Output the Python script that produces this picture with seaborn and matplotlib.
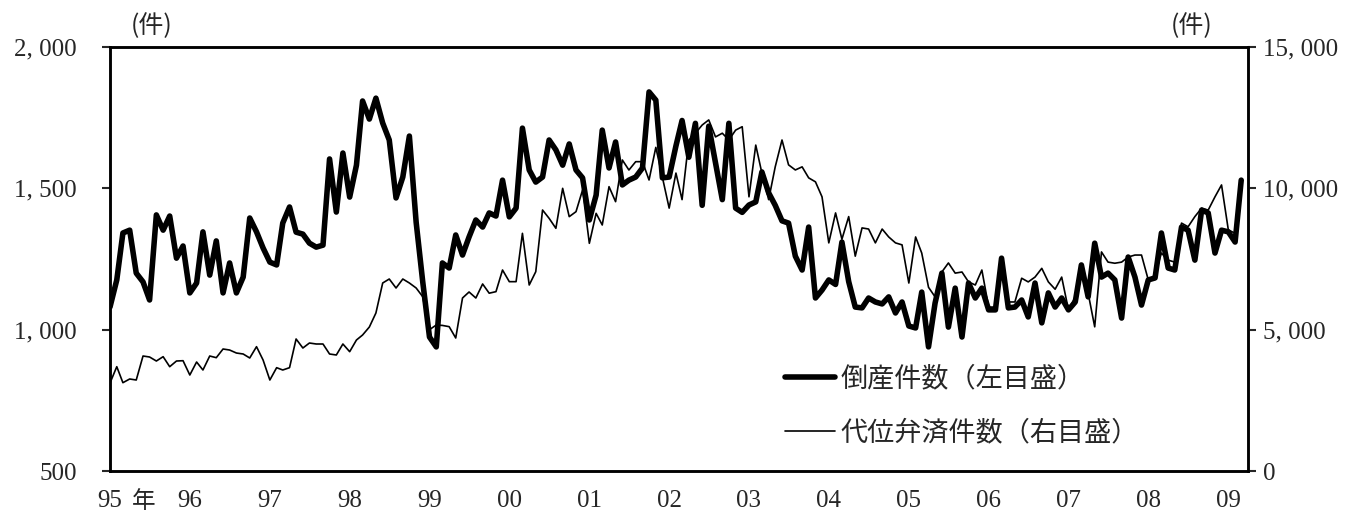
import numpy as np
import pandas as pd
import matplotlib
matplotlib.use('Agg')
import matplotlib.pyplot as plt
import seaborn as sns

# monthly values, Jan 1995 - Mar 2009
bankrupt = [
    1080, 1176, 1342, 1352, 1200, 1169, 1105, 1406, 1352, 1402, 1253, 1296,  # 95
    1130, 1165, 1346, 1193, 1314, 1130, 1236, 1130, 1186, 1395, 1346, 1289,  # 96
    1239, 1229, 1377, 1434, 1345, 1338, 1306, 1292, 1299, 1604, 1416, 1625,  # 97
    1469, 1582, 1809, 1745, 1819, 1731, 1671, 1466, 1540, 1685, 1380, 1170,  # 98
    974, 939, 1236, 1218, 1335, 1264, 1328, 1388, 1363, 1413, 1402, 1529,    # 99
    1399, 1430, 1713, 1565, 1522, 1540, 1671, 1636, 1582, 1657, 1565, 1537,  # 00
    1388, 1476, 1706, 1572, 1664, 1512, 1529, 1540, 1572, 1841, 1812, 1537,  # 01
    1540, 1650, 1740, 1610, 1730, 1440, 1720, 1590, 1460, 1730, 1430, 1415,  # 02
    1441, 1452, 1558, 1484, 1440, 1385, 1377, 1260, 1211, 1363, 1112, 1140,  # 03
    1176, 1160, 1310, 1170, 1080, 1077, 1112, 1098, 1091, 1116, 1059, 1098,  # 04
    1013, 1006, 1133, 939, 1094, 1200, 1009, 1147, 974, 1165, 1112, 1147,    # 05
    1070, 1070, 1253, 1077, 1080, 1105, 1045, 1165, 1024, 1130, 1080, 1112,  # 06
    1070, 1098, 1229, 1116, 1306, 1186, 1200, 1176, 1041, 1257, 1186, 1087,  # 07
    1176, 1183, 1342, 1218, 1211, 1363, 1352, 1246, 1423, 1413, 1271, 1352,  # 08
    1346, 1310, 1529,                                                        # 09
]
subrog = [
    3113, 3690, 3124, 3255, 3219, 4068, 4033, 3891, 4044, 3690, 3891, 3902,
    3396, 3856, 3573, 4068, 4009, 4316, 4280, 4174, 4139, 3998, 4398, 3927,
    3219, 3655, 3573, 3655, 4670, 4351, 4528, 4493, 4493, 4139, 4104, 4493,
    4221, 4634, 4811, 5094, 5590, 6651, 6792, 6474, 6792, 6651, 6474, 6167,
    5000, 5165, 5150, 5106, 4705, 6120, 6333, 6120, 6616, 6290, 6345, 7111,
    6698, 6698, 8408, 6580, 7051, 9233, 8939, 8586, 10000, 8998, 9174, 9941,
    8055, 9115, 8703, 10059, 9528, 11002, 10648, 10943, 10943, 10295, 11450, 10400,
    9300, 10540, 9600, 11710, 11950, 12240, 12420, 11820, 11950, 11710, 12060, 12180,
    9700, 11530, 10540, 9600, 10760, 11710, 10830, 10650, 10760, 10370, 10230, 9700,
    8070, 9130, 8200, 9000, 7600, 8600, 8560, 8070, 8560, 8280, 8070, 8000,
    6650, 8280, 7710, 6500, 6160, 7040, 7360, 7000, 7040, 6690, 6580, 7110,
    5800, 5800, 7000, 5980, 5980, 6820, 6690, 6860, 7170, 6690, 6430, 6860,
    5700, 6160, 7110, 6290, 5100, 7750, 7390, 7350, 7390, 7570, 7640, 7640,
    6760, 6930, 7710, 7460, 7390, 8770, 8640, 9000, 9300, 9230, 9700, 10120,
    8530, 8410, np.nan,
]
year_labels = ['95', '96', '97', '98', '99', '00', '01', '02', '03', '04',
               '05', '06', '07', '08', '09']
left_ticks = [500, 1000, 1500, 2000]
right_ticks = [0, 5000, 10000, 15000]
label_bankrupt = '倒産件数（左目盛）'
label_subrog = '代位弁済件数（右目盛）'

dates = pd.date_range('1995-01-01', periods=len(bankrupt), freq='MS')
df = pd.DataFrame({'date': dates, 'bankrupt': bankrupt, 'subrog': subrog})

sns.set_style('white')
plt.rcParams['font.family'] = ['Liberation Serif', 'Noto Sans CJK JP', 'DejaVu Sans']
jp = 'Noto Sans CJK JP'

fig, ax = plt.subplots(figsize=(13.47, 5.17), dpi=100)
fig.subplots_adjust(left=110 / 1347, right=1248 / 1347, bottom=1 - 471 / 517, top=1 - 47 / 517)

sns.lineplot(data=df, x='date', y='bankrupt', ax=ax, color='black', linewidth=4.0)
ax2 = ax.twinx()
sns.lineplot(data=df, x='date', y='subrog', ax=ax2, color='black', linewidth=1.2)

ax.set_xlim(pd.Timestamp('1995-01-01'), pd.Timestamp('2009-04-01'))
ax.set_ylim(500, 2000)
ax2.set_ylim(0, 15000)

ax.set_xticks(pd.date_range('1995-01-01', periods=len(year_labels), freq='YS'))
ax.set_xticklabels(year_labels)
ax.set_yticks(left_ticks)
ax.set_yticklabels([f'{v:,}'.replace(',', ', ') for v in left_ticks])
ax2.set_yticks(right_ticks)
ax2.set_yticklabels([f'{v:,}'.replace(',', ', ') for v in right_ticks])
ax.set_xlabel('')
ax.set_ylabel('')
ax2.set_ylabel('')

ax.tick_params(axis='x', direction='in', length=7, width=1.5, pad=14, labelsize=18)
ax.tick_params(axis='y', direction='out', length=6, width=1.5, pad=18, labelsize=18)
ax2.tick_params(axis='y', direction='out', length=6, width=1.5, pad=5, labelsize=18)
for a in (ax, ax2):
    for s in a.spines.values():
        s.set_linewidth(1.8)
        s.set_color('black')

# "年" after the first year label
ax.annotate('年', xy=(dates[0], 0), xycoords=('data', 'axes fraction'),
            xytext=(34, -30), textcoords='offset pixels', ha='center', va='center',
            family=jp, fontsize=17)

fig.text(152 / 1347, 1 - 26 / 517, '(件)', ha='center', va='center', family=jp, fontsize=18)
fig.text(1192 / 1347, 1 - 26 / 517, '(件)', ha='center', va='center', family=jp, fontsize=18)

ax2.legend([ax.lines[0], ax2.lines[0]], [label_bankrupt, label_subrog],
           loc='upper left', bbox_to_anchor=(0.593, 0.25), frameon=False,
           prop={'family': jp, 'size': 19.5}, handlelength=1.85, handletextpad=0.2,
           labelspacing=1.0, borderaxespad=0, borderpad=0)

fig.savefig('out.png', dpi=100)
